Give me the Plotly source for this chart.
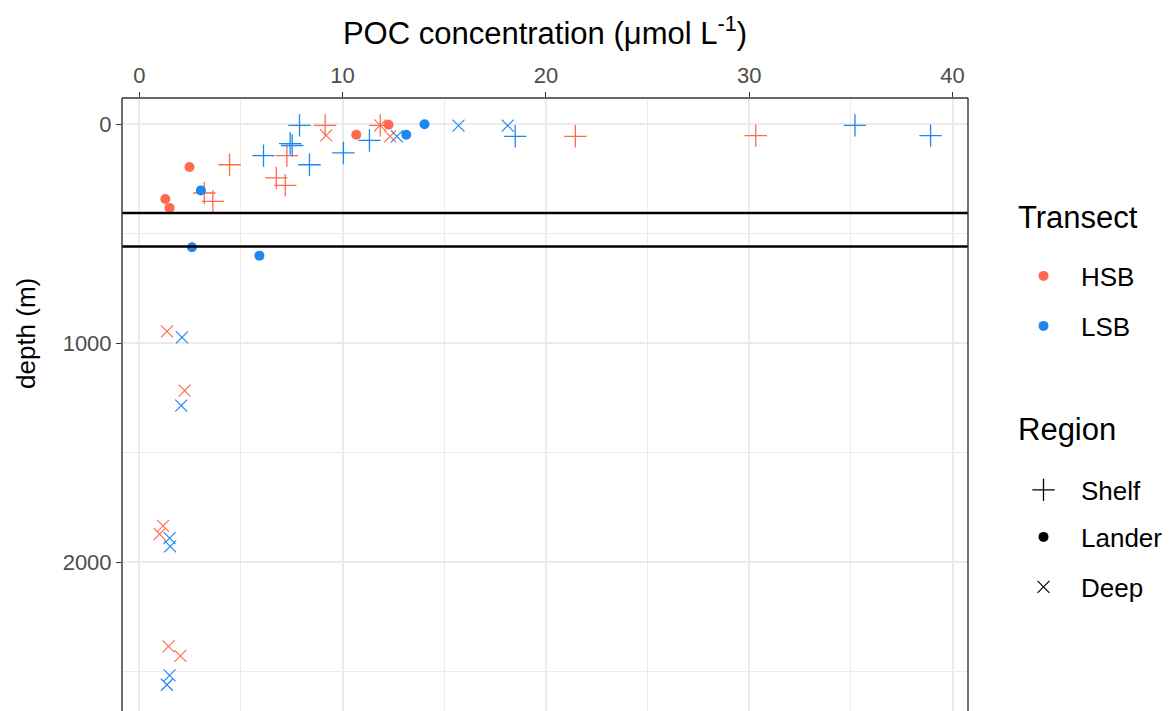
import plotly.graph_objects as go

# POC concentration (umol/L) and sampling depth (m), by transect and region
hsb_shelf_poc = [4.44, 7.26, 6.74, 7.18, 3.20, 3.62, 9.14, 11.85, 21.45, 30.32]
hsb_shelf_depth = [185, 143, 245, 279, 314, 352, 5, 5, 55, 52]
hsb_lander_poc = [2.47, 1.28, 1.49, 10.67, 12.26]
hsb_lander_depth = [195, 341, 382, 48, 2]
hsb_deep_poc = [9.19, 11.85, 12.34, 1.36, 2.23, 1.17, 1.00, 1.44, 2.02]
hsb_deep_depth = [51, 5, 55, 946, 1217, 1834, 1872, 2385, 2428]

lsb_shelf_poc = [7.88, 7.42, 7.52, 6.11, 8.37, 10.04, 11.32, 18.49, 35.20, 38.92]
lsb_shelf_depth = [5, 88, 97, 143, 185, 131, 74, 55, 5, 52]
lsb_lander_poc = [3.03, 13.13, 14.03, 2.59, 5.91]
lsb_lander_depth = [302, 48, 0, 562, 600]
lsb_deep_poc = [12.67, 15.70, 18.12, 2.10, 2.06, 1.49, 1.52, 1.49, 1.36]
lsb_deep_depth = [55, 6, 6, 973, 1285, 1890, 1928, 2517, 2560]

# reference depth lines (m)
ref_depths = [405, 558]

transects = ["HSB", "LSB"]
regions = ["Shelf", "Lander", "Deep"]

FONT = "Liberation Sans, Arial, sans-serif"
COLORS = {"HSB": "#FF6A4D", "LSB": "#1E86F0"}
SYMBOLS = {"Shelf": "cross-thin", "Lander": "circle", "Deep": "x-thin"}
SIZES = {"Shelf": 16, "Lander": 10, "Deep": 12}

series = {
    ("HSB", "Shelf"): (hsb_shelf_poc, hsb_shelf_depth),
    ("HSB", "Lander"): (hsb_lander_poc, hsb_lander_depth),
    ("HSB", "Deep"): (hsb_deep_poc, hsb_deep_depth),
    ("LSB", "Shelf"): (lsb_shelf_poc, lsb_shelf_depth),
    ("LSB", "Lander"): (lsb_lander_poc, lsb_lander_depth),
    ("LSB", "Deep"): (lsb_deep_poc, lsb_deep_depth),
}


def marker(region, color):
    m = dict(symbol=SYMBOLS[region], size=SIZES[region], color=color)
    if region == "Lander":
        m["line"] = dict(width=0)
    else:
        m["line"] = dict(width=1.3 if region == "Shelf" else 1.15, color=color)
    return m


fig = go.Figure()

for region in ["Shelf", "Deep", "Lander"]:
    for tr in transects:
        x, y = series[(tr, region)]
        fig.add_trace(go.Scatter(
            x=x, y=y, mode="markers", showlegend=False,
            marker=marker(region, COLORS[tr]),
            hoverinfo="x+y", name=f"{tr} {region}",
        ))

# legend keys: colour for transect, shape for region
legend_ids = ["legend", "legend2", "legend3", "legend4", "legend5"]
keys = [(t, "Lander", COLORS[t]) for t in transects] + \
       [(r, r, "#000000") for r in regions]
for (label, region, color), lid in zip(keys, legend_ids):
    fig.add_trace(go.Scatter(
        x=[None], y=[None], mode="markers", name=label, legend=lid,
        marker=marker(region, color),
    ))

legend_y = [276, 326, 490, 537, 587]
plot_top, plot_bottom = 98, 711
plot_left, plot_right = 122, 968


def py(p):
    return (plot_bottom - p) / (plot_bottom - plot_top)


def px(p):
    return (p - plot_left) / (plot_right - plot_left)


legend_style = dict(
    xanchor="left", yanchor="middle", bgcolor="rgba(0,0,0,0)",
    font=dict(family=FONT, size=26, color="#000000"),
    itemwidth=65, borderwidth=0,
)
layout_legends = {}
for lid, ypix in zip(legend_ids, legend_y):
    layout_legends[lid] = dict(legend_style, x=px(1006), y=py(ypix))

grid = "#EBEBEB"
fig.update_layout(
    width=1174, height=711,
    margin=dict(l=plot_left, r=1174 - plot_right, t=plot_top, b=0),
    paper_bgcolor="white", plot_bgcolor="white",
    font=dict(family=FONT, color="#000000"),
    **layout_legends,
    xaxis=dict(
        side="top", range=[-0.85, 40.76],
        tickvals=[0, 10, 20, 30, 40],
        ticks="outside", ticklen=5, tickwidth=1.2, tickcolor="#333333",
        tickfont=dict(family=FONT, size=22, color="#4D4D4D"),
        showgrid=True, gridcolor=grid, gridwidth=1.8,
        minor=dict(dtick=5, tick0=0, showgrid=True, gridcolor=grid, gridwidth=0.9),
        zeroline=False, showline=False,
        title=dict(text="POC concentration (\u03bcmol L<sup>-1</sup>)",
                   font=dict(family=FONT, size=31, color="#000000"), standoff=9),
    ),
    yaxis=dict(
        range=[2680, -120],
        tickvals=[0, 1000, 2000],
        ticks="outside", ticklen=5, tickwidth=1.2, tickcolor="#333333",
        tickfont=dict(family=FONT, size=22, color="#4D4D4D"),
        showgrid=True, gridcolor=grid, gridwidth=1.8,
        minor=dict(dtick=500, tick0=0, showgrid=True, gridcolor=grid, gridwidth=0.9),
        zeroline=False, showline=False,
    ),
    annotations=[
        dict(text="depth (m)", x=px(26), y=py(334), xref="paper", yref="paper",
             xanchor="center", yanchor="middle", textangle=-90, showarrow=False,
             font=dict(family=FONT, size=26, color="#000000")),
        dict(text="Transect", x=px(1016), y=py(218), xref="paper", yref="paper",
             xanchor="left", yanchor="middle", showarrow=False,
             font=dict(family=FONT, size=31, color="#000000")),
        dict(text="Region", x=px(1016), y=py(430), xref="paper", yref="paper",
             xanchor="left", yanchor="middle", showarrow=False,
             font=dict(family=FONT, size=31, color="#000000")),
    ],
)

for d in ref_depths:
    fig.add_hline(y=d, line=dict(color="#000000", width=2.4))

# panel border (top, left, right)
border = dict(color="#333333", width=1.4)
for x0, y0, x1, y1 in [(0, 1, 1, 1), (0, 0, 0, 1), (1, 0, 1, 1)]:
    fig.add_shape(type="line", xref="paper", yref="paper",
                  x0=x0, y0=y0, x1=x1, y1=y1, line=border, layer="above")

fig.write_html("out.html")
